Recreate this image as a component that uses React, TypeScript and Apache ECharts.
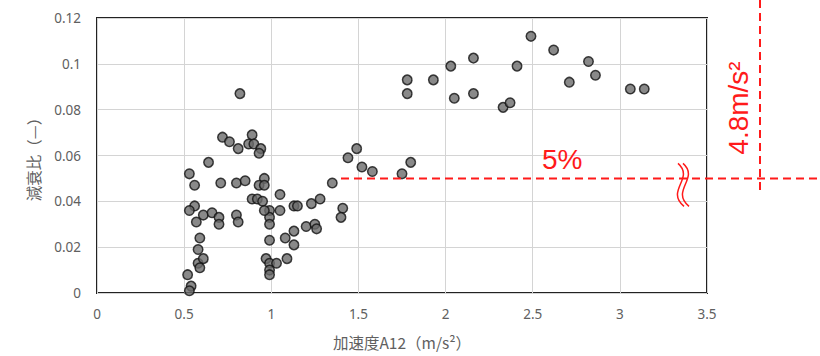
import React, { useEffect, useRef } from "react";
import * as echarts from "echarts";

// 加速度A12 (m/s²)
const accel = [
  0.82, 0.72, 0.76, 0.81, 0.89, 0.87, 0.9, 0.94, 0.93, 0.64,
  0.53, 0.56, 0.71, 0.8, 0.85, 0.96, 0.93, 0.96, 0.89, 0.92,
  0.95, 1.05, 0.56, 0.53, 0.61, 0.66, 0.57, 0.7, 0.7, 0.8,
  0.81, 0.99, 0.99, 0.99, 1.05, 1.13, 1.15, 1.23, 1.28, 0.59,
  0.58, 0.58, 0.61, 0.59, 0.52, 0.54, 0.53, 0.99, 1.08, 1.13,
  1.13, 1.2, 1.25, 1.26, 0.97, 0.99, 1.03, 1.09, 0.99, 0.99,
  1.49, 1.44, 1.52, 1.58, 1.35, 1.41, 1.4, 1.75, 1.8, 1.78,
  1.93, 1.78, 2.03, 2.16, 2.41, 2.05, 2.16, 2.33, 2.37, 2.49,
  2.62, 2.82, 2.86, 2.71, 3.06, 3.14, 0.96,
];
// 減衰比 (—)
const damping = [
  0.087, 0.068, 0.066, 0.063, 0.069, 0.065, 0.065, 0.063, 0.061, 0.057,
  0.052, 0.047, 0.048, 0.048, 0.049, 0.05, 0.047, 0.047, 0.041, 0.041,
  0.04, 0.043, 0.038, 0.036, 0.034, 0.035, 0.031, 0.033, 0.03, 0.034,
  0.031, 0.036, 0.033, 0.03, 0.036, 0.038, 0.038, 0.039, 0.041, 0.024,
  0.019, 0.013, 0.015, 0.011, 0.008, 0.003, 0.001, 0.023, 0.024, 0.027,
  0.021, 0.029, 0.03, 0.028, 0.015, 0.013, 0.013, 0.015, 0.01, 0.008,
  0.063, 0.059, 0.055, 0.053, 0.048, 0.037, 0.033, 0.052, 0.057, 0.093,
  0.093, 0.087, 0.099, 0.1025, 0.099, 0.085, 0.087, 0.081, 0.083, 0.112,
  0.106, 0.101, 0.095, 0.092, 0.089, 0.089, 0.036,
];

const xTicks = { min: 0, max: 3.5, interval: 0.5 };
const yTicks = { min: 0, max: 0.12, interval: 0.02 };

const thresholdRatio = 0.05;
const thresholdStartX = 1.4;
const thresholdLabel = "5%";
const accelLabel = "4.8m/s²";

const RED = "#ff1a1a";

export default function App() {
  const ref = useRef<HTMLDivElement>(null);
  useEffect(() => {
    if (!ref.current) return;
    const chart = echarts.init(ref.current, undefined, { renderer: "svg" });
    const labelStyle = {
      color: "#606060",
      fontSize: 13.5,
      fontFamily: "Noto Sans",
    };
    const nameStyle = {
      color: "#606060",
      fontSize: 15.5,
      fontFamily: "Noto Sans CJK JP",
    };
    chart.setOption({
      animation: false,
      grid: {
        left: 97,
        top: 18,
        right: 113,
        bottom: 63,
        show: true,
        borderColor: "#222",
        borderWidth: 2,
        backgroundColor: "transparent",
      },
      xAxis: {
        type: "value",
        ...xTicks,
        name: "加速度A12（m/s²）",
        nameLocation: "middle",
        nameGap: 41,
        nameTextStyle: nameStyle,
        axisLine: { show: false },
        axisTick: { show: false },
        axisLabel: { ...labelStyle, margin: 14, formatter: (v: number) => String(v) },
        splitLine: { show: true, lineStyle: { color: "#d4d4d4", width: 1 } },
      },
      yAxis: {
        type: "value",
        ...yTicks,
        name: "減衰比（—）",
        nameLocation: "middle",
        nameGap: 56,
        nameTextStyle: nameStyle,
        axisLine: { show: false },
        axisTick: { show: false },
        axisLabel: { ...labelStyle, margin: 16, formatter: (v: number) => String(Number(v.toFixed(2))) },
        splitLine: { show: true, lineStyle: { color: "#d4d4d4", width: 1 } },
      },
      series: [
        {
          type: "scatter",
          data: accel.map((x, i) => [x, damping[i]]),
          symbol: "circle",
          symbolSize: 9.5,
          itemStyle: { color: "#6b6b6b", borderColor: "#111", borderWidth: 1.5 },
        },
      ],
    });

    const [lx, ly] = chart.convertToPixel({ gridIndex: 0 }, [thresholdStartX, thresholdRatio]) as number[];
    const [rx] = chart.convertToPixel({ gridIndex: 0 }, [xTicks.max, 0]) as number[];
    const vx = rx + 53;
    const wx = rx - 29;
    chart.setOption({
      graphic: [
        {
          type: "line",
          shape: { x1: lx, y1: ly, x2: 820, y2: ly },
          style: { stroke: RED, lineWidth: 2, lineDash: [8, 5] },
          z: 10,
        },
        {
          type: "line",
          shape: { x1: vx, y1: 0, x2: vx, y2: ly + 14 },
          style: { stroke: RED, lineWidth: 2, lineDash: [8, 5] },
          z: 10,
        },
        {
          type: "text",
          x: 542,
          y: ly - 5,
          style: {
            text: thresholdLabel,
            fill: RED,
            fontSize: 28,
            fontFamily: "Liberation Sans",
            align: "left",
            verticalAlign: "bottom",
          },
          z: 10,
        },
        {
          type: "text",
          x: vx - 22,
          y: 108,
          rotation: Math.PI / 2,
          style: {
            text: accelLabel,
            fill: RED,
            fontSize: 28,
            fontFamily: "Liberation Sans",
            align: "center",
            verticalAlign: "middle",
          },
          z: 10,
        },
        {
          type: "bezierCurve",
          shape: { x1: wx, y1: ly - 15, cpx1: wx + 17, cpy1: ly, cpx2: wx - 13, cpy2: ly + 12, x2: wx + 6, y2: ly + 28 },
          style: { stroke: RED, lineWidth: 1.5, fill: "none" },
          z: 11,
        },
        {
          type: "bezierCurve",
          shape: { x1: wx + 5, y1: ly - 15, cpx1: wx + 22, cpy1: ly, cpx2: wx - 8, cpy2: ly + 12, x2: wx + 11, y2: ly + 28 },
          style: { stroke: RED, lineWidth: 1.5, fill: "none" },
          z: 11,
        },
      ],
    });

    return () => chart.dispose();
  }, []);
  return <div ref={ref} style={{ width: 820, height: 356, position: "absolute", left: 0, top: 0 }} />;
}
